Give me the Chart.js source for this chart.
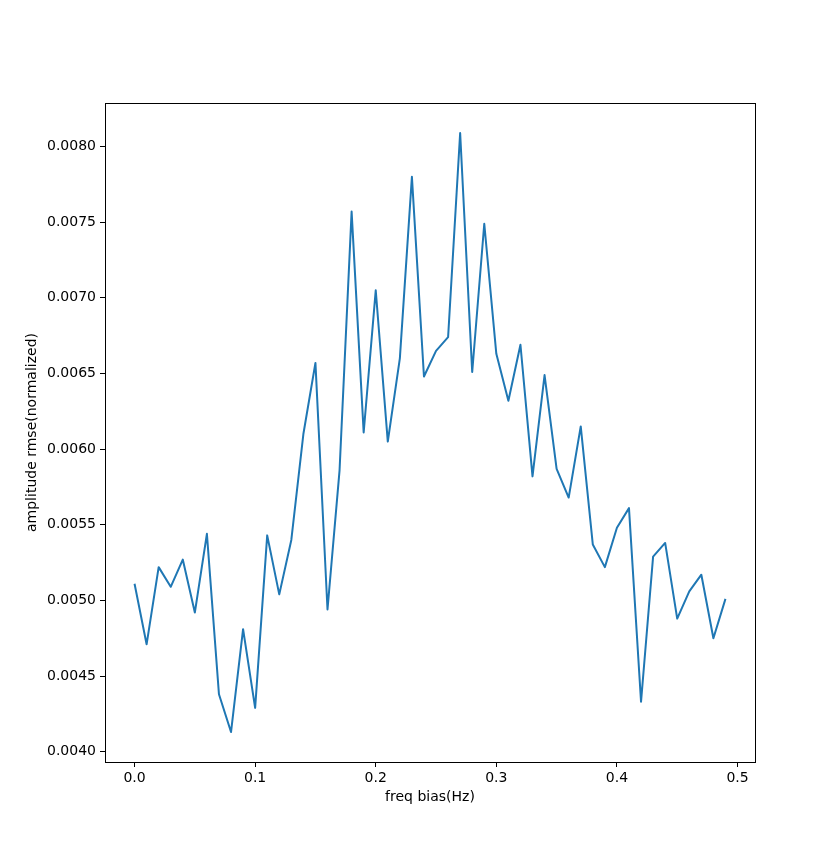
<!DOCTYPE html>
<html>
<head>
<meta charset="utf-8">
<script src="https://cdn.jsdelivr.net/npm/chart.js@4/dist/chart.umd.min.js"></script>
<style>
  html, body { margin: 0; padding: 0; background: #fff; }
  canvas { display: block; }
</style>
</head>
<body>
<canvas id="chart" width="839" height="856"></canvas>
<script>
'use strict';

// freq bias (Hz), 0.00 .. 0.49
const freqBias = [
  0.00, 0.01, 0.02, 0.03, 0.04, 0.05, 0.06, 0.07, 0.08, 0.09,
  0.10, 0.11, 0.12, 0.13, 0.14, 0.15, 0.16, 0.17, 0.18, 0.19,
  0.20, 0.21, 0.22, 0.23, 0.24, 0.25, 0.26, 0.27, 0.28, 0.29,
  0.30, 0.31, 0.32, 0.33, 0.34, 0.35, 0.36, 0.37, 0.38, 0.39,
  0.40, 0.41, 0.42, 0.43, 0.44, 0.45, 0.46, 0.47, 0.48, 0.49,
];

// amplitude rmse (normalized)
const rmse = [
  0.00511, 0.00471, 0.00522, 0.00509, 0.00527, 0.00492, 0.00544, 0.00438, 0.00413, 0.00481,
  0.00429, 0.00543, 0.00504, 0.00540, 0.00610, 0.00657, 0.00494, 0.00586, 0.00757, 0.00611,
  0.00705, 0.00605, 0.00660, 0.00780, 0.00648, 0.00665, 0.00674, 0.00809, 0.00651, 0.00749,
  0.00663, 0.00632, 0.00669, 0.00582, 0.00649, 0.00587, 0.00568, 0.00615, 0.00537, 0.00522,
  0.00548, 0.00561, 0.00433, 0.00529, 0.00538, 0.00488, 0.00506, 0.00517, 0.00475, 0.00501,
];

const xTicks = [0.0, 0.1, 0.2, 0.3, 0.4, 0.5];
const yTicks = [0.0040, 0.0045, 0.0050, 0.0055, 0.0060, 0.0065, 0.0070, 0.0075, 0.0080];

const FONT = { family: '"DejaVu Sans", sans-serif', size: 14 };

// matplotlib-like 5% margins around the data
const xSpan = Math.max(...freqBias) - Math.min(...freqBias);
const ySpan = Math.max(...rmse) - Math.min(...rmse);

const framePlugin = {
  id: 'frame',
  afterDraw(chart) {
    const { ctx, chartArea: a } = chart;
    ctx.save();
    ctx.strokeStyle = '#000';
    ctx.lineWidth = 1;
    ctx.strokeRect(Math.round(a.left) + 0.5, Math.round(a.top) + 0.5,
      Math.round(a.right - a.left), Math.round(a.bottom - a.top));
    ctx.restore();
  },
};

new Chart(document.getElementById('chart').getContext('2d'), {
  type: 'line',
  data: {
    datasets: [{
      data: freqBias.map((x, i) => ({ x, y: rmse[i] })),
      borderColor: '#1f77b4',
      borderWidth: 2,
      borderJoinStyle: 'round',
      pointRadius: 0,
      tension: 0,
      fill: false,
    }],
  },
  options: {
    responsive: false,
    animation: false,
    layout: { padding: { top: 103, right: 84, left: 0, bottom: 0 } },
    plugins: { legend: { display: false }, tooltip: { enabled: false } },
    scales: {
      x: {
        type: 'linear',
        min: Math.min(...freqBias) - xSpan * 0.05,
        max: Math.max(...freqBias) + xSpan * 0.05,
        afterBuildTicks: (s) => { s.ticks = xTicks.map((v) => ({ value: v })); },
        afterFit: (s) => { s.height = 94; },
        border: { display: false },
        grid: { drawOnChartArea: false, drawTicks: true, tickLength: 5, color: '#000' },
        ticks: { color: '#000', font: FONT, padding: 3, maxRotation: 0,
          callback: (v) => v.toFixed(1) },
        title: { display: true, text: 'freq bias(Hz)', color: '#000', font: FONT,
          padding: { top: 0, bottom: 50 } },
      },
      y: {
        type: 'linear',
        min: Math.min(...rmse) - ySpan * 0.05,
        max: Math.max(...rmse) + ySpan * 0.05,
        afterBuildTicks: (s) => { s.ticks = yTicks.map((v) => ({ value: v })); },
        afterFit: (s) => { s.width = 105; },
        border: { display: false },
        grid: { drawOnChartArea: false, drawTicks: true, tickLength: 5, color: '#000' },
        ticks: { color: '#000', font: FONT, padding: 4,
          callback: (v) => v.toFixed(4) },
        title: { display: true, text: 'amplitude rmse(normalized)', color: '#000', font: FONT,
          padding: { top: 24, bottom: 0 } },
      },
    },
  },
  plugins: [framePlugin],
});
</script>
</body>
</html>
